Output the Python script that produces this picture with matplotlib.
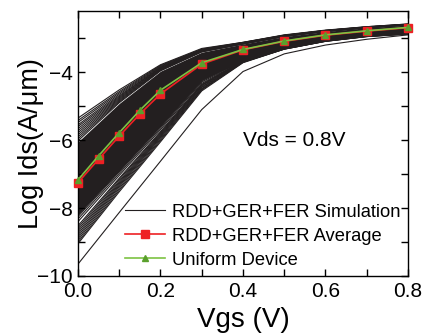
import matplotlib
matplotlib.use("Agg")
import matplotlib.pyplot as plt
from matplotlib.ticker import MultipleLocator

plt.rcParams['font.family'] = ['Liberation Sans', 'DejaVu Sans']

# Simulation Vgs sample points
vgs_sim = [0.0, 0.1, 0.2, 0.3, 0.4, 0.5, 0.6, 0.7, 0.8]

# Upper fringe of the simulation band (individual curves)
sim_upper = [
    [-5.35, -4.52, -3.78, -3.30, -3.12, -2.90, -2.76, -2.66, -2.58],
    [-5.42, -4.57, -3.80, -3.32, -3.12, -2.91, -2.77, -2.66, -2.58],
    [-5.48, -4.61, -3.82, -3.33, -3.13, -2.91, -2.77, -2.67, -2.59],
    [-5.55, -4.65, -3.84, -3.34, -3.13, -2.92, -2.77, -2.67, -2.59],
    [-5.60, -4.69, -3.86, -3.35, -3.14, -2.92, -2.78, -2.67, -2.59],
    [-5.66, -4.72, -3.87, -3.36, -3.14, -2.93, -2.78, -2.68, -2.60],
    [-5.72, -4.75, -3.89, -3.37, -3.15, -2.93, -2.78, -2.68, -2.60],
    [-5.78, -4.78, -3.90, -3.37, -3.15, -2.93, -2.79, -2.68, -2.60],
    [-5.84, -4.81, -3.92, -3.38, -3.16, -2.94, -2.79, -2.69, -2.60],
    [-5.90, -4.84, -3.93, -3.39, -3.16, -2.94, -2.80, -2.69, -2.61],
    [-5.96, -4.87, -3.95, -3.40, -3.17, -2.95, -2.80, -2.69, -2.61],
    [-6.02, -4.90, -3.96, -3.40, -3.17, -2.95, -2.80, -2.69, -2.61],
]

# Dense core of the simulation band (envelope)
core_top = [-6.05, -4.92, -3.97, -3.41, -3.17, -2.95, -2.80, -2.69, -2.61]
core_bottom = [-8.20, -6.90, -5.58, -4.22, -3.63, -3.28, -3.05, -2.91, -2.83]

# Lower fringe of the simulation band
sim_lower = [
    [-8.25, -6.93, -5.60, -4.24, -3.63, -3.28, -3.05, -2.91, -2.83],
    [-8.32, -6.98, -5.64, -4.26, -3.64, -3.28, -3.05, -2.91, -2.84],
    [-8.40, -7.04, -5.69, -4.29, -3.65, -3.29, -3.06, -2.92, -2.84],
    [-8.52, -7.12, -5.75, -4.33, -3.66, -3.29, -3.06, -2.92, -2.85],
    [-8.58, -7.16, -5.78, -4.36, -3.67, -3.30, -3.07, -2.93, -2.85],
    [-8.64, -7.21, -5.81, -4.38, -3.67, -3.30, -3.07, -2.93, -2.85],
    [-8.70, -7.25, -5.84, -4.40, -3.68, -3.30, -3.07, -2.93, -2.86],
    [-8.76, -7.29, -5.87, -4.43, -3.68, -3.31, -3.08, -2.94, -2.86],
    [-8.82, -7.33, -5.90, -4.45, -3.69, -3.31, -3.08, -2.94, -2.86],
    [-8.88, -7.37, -5.93, -4.48, -3.70, -3.31, -3.08, -2.94, -2.87],
    [-8.94, -7.42, -5.97, -4.50, -3.70, -3.32, -3.09, -2.95, -2.87],
    [-9.00, -7.47, -6.01, -4.52, -3.71, -3.32, -3.09, -2.95, -2.87],
    [-9.05, -7.52, -6.05, -4.55, -3.72, -3.32, -3.09, -2.95, -2.88],
]
sim_outlier = [-9.65, -8.13, -6.62, -5.10, -3.98, -3.46, -3.20, -3.03, -2.90]

# Average and uniform device
vgs = [0.0, 0.05, 0.1, 0.15, 0.2, 0.3, 0.4, 0.5, 0.6, 0.7, 0.8]
avg = [-7.25, -6.56, -5.88, -5.23, -4.64, -3.76, -3.34, -3.09, -2.91, -2.79, -2.69]
uniform = [-7.17, -6.46, -5.78, -5.12, -4.53, -3.72, -3.33, -3.08, -2.90, -2.78, -2.68]

fig = plt.figure(figsize=(4.25, 3.36), dpi=100)
ax = fig.add_axes([0.1835, 0.1786, 0.7765, 0.7884])

band = '#231f20'
ax.fill_between(vgs_sim, core_bottom, core_top, color=band, lw=0, zorder=1)
for i, c in enumerate(sim_upper + sim_lower + [sim_outlier]):
    ax.plot(vgs_sim, c, color=band, lw=0.8, zorder=2,
            label='RDD+GER+FER Simulation' if i == 0 else None)

ax.plot(vgs, avg, color='#ee2024', lw=1.2, marker='s', ms=5.2, mfc='#ee2024',
        mec='#ee2024', zorder=4, clip_on=False, label='RDD+GER+FER Average')
ax.plot(vgs, uniform, color='#7dc242', lw=1.2, marker='^', ms=5, mfc='#5aa02c',
        mec='#5aa02c', zorder=5, clip_on=False, label='Uniform Device')

ax.set_xlim(0, 0.8)
ax.set_ylim(-10, -2.2)
ax.xaxis.set_minor_locator(MultipleLocator(0.1))
ax.yaxis.set_minor_locator(MultipleLocator(1))
ax.set_xticks([0.0, 0.2, 0.4, 0.6, 0.8])
ax.set_xticklabels(['0.0', '0.2', '0.4', '0.6', '0.8'])
ax.set_yticks([-10, -8, -6, -4])
ax.tick_params(which='both', direction='in', top=True, right=True, labelsize=15, width=1.0)
ax.tick_params(which='major', length=5, pad=4)
ax.tick_params(which='minor', length=5)
for s in ax.spines.values():
    s.set_linewidth(1.0)

ax.set_xlabel('Vgs (V)', fontsize=20, labelpad=5)
ax.set_ylabel('Log Ids(A/\u03bcm)', fontsize=19.5, labelpad=-5)

ax.text(0.4, -6.0, 'Vds = 0.8V', fontsize=15, ha='left', va='center')

leg = ax.legend(loc='lower right', frameon=False, fontsize=13.2, handlelength=2.2,
                handletextpad=0.4, labelspacing=0.38, borderaxespad=0.0,
                bbox_to_anchor=(1.0, 0.0))

fig.savefig('out.png', dpi=100)
